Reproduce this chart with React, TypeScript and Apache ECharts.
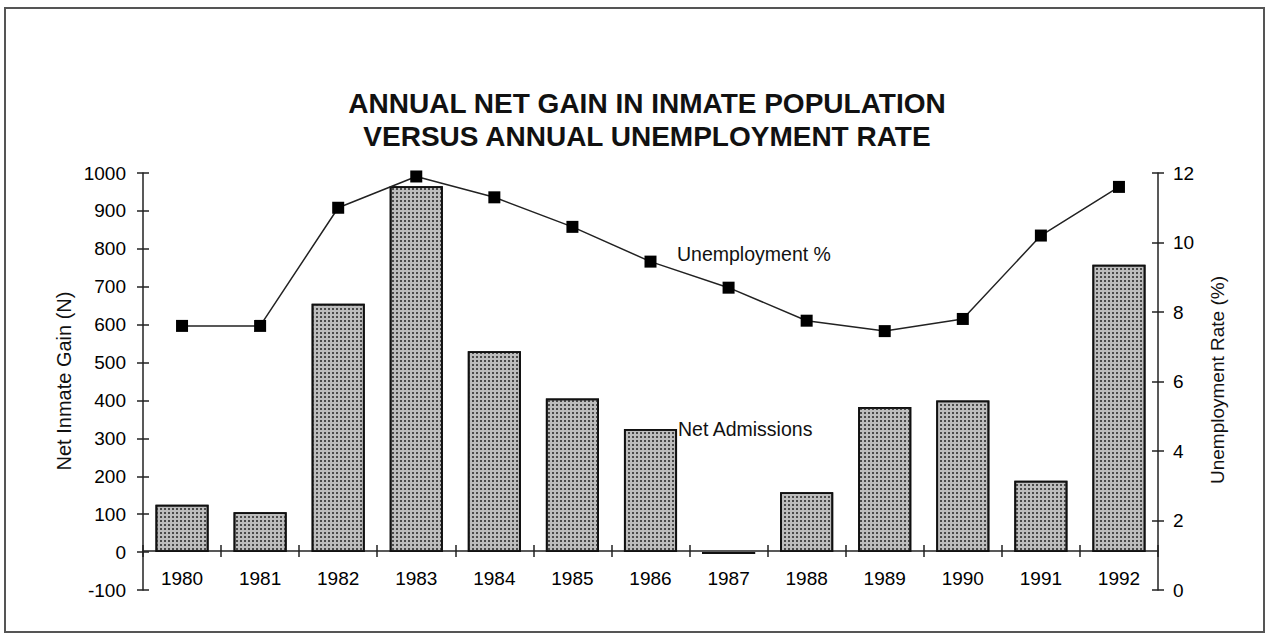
import React, { useEffect, useRef } from "react";
import * as echarts from "echarts";

const years = ["1980", "1981", "1982", "1983", "1984", "1985", "1986", "1987", "1988", "1989", "1990", "1991", "1992"];
const netAdmissions = [125, 105, 655, 965, 530, 405, 325, -5, 158, 383, 400, 188, 758];
const unemployment = [7.6, 7.6, 11.0, 11.9, 11.3, 10.45, 9.45, 8.7, 7.75, 7.45, 7.8, 10.2, 11.6];
const titleLines = ["ANNUAL NET GAIN IN INMATE POPULATION", "VERSUS ANNUAL UNEMPLOYMENT RATE"];
const leftAxisName = "Net Inmate Gain (N)";
const rightAxisName = "Unemployment Rate (%)";
const lineLabel = "Unemployment %";
const barLabel = "Net Admissions";

const FONT = "'Liberation Sans', Arial, sans-serif";

export default function App() {
  const ref = useRef<HTMLDivElement>(null);
  useEffect(() => {
    if (!ref.current) return;
    const chart = echarts.init(ref.current, null, { renderer: "svg" });
    const axisText = { color: "#000", fontSize: 19, fontFamily: FONT, formatter: (v: any) => String(v) };
    const tickStyle = { color: "#222", width: 1.5 };
    chart.setOption({
      animation: false,
      backgroundColor: "#ffffff",
      grid: [
        { left: 143, right: 112, top: 173, bottom: 49, containLabel: false },
        { left: 143, right: 112, top: 173, bottom: 88, containLabel: false },
      ],
      xAxis: [
        {
          type: "category",
          gridIndex: 0,
          data: years,
          show: false,
        },
        {
          type: "category",
          gridIndex: 1,
          data: years,
          position: "bottom",
          axisLine: { onZero: false, lineStyle: { color: "#222", width: 1.5 } },
          axisTick: { show: true, length: 6, lineStyle: tickStyle },
          axisLabel: { color: "#000", fontSize: 19, fontFamily: FONT, margin: 18 },
        },
        {
          type: "category",
          gridIndex: 1,
          data: years,
          position: "bottom",
          axisLine: { show: false, onZero: false },
          axisTick: { show: true, inside: true, length: 6, lineStyle: tickStyle },
          axisLabel: { show: false },
        },
      ],
      yAxis: [
        {
          type: "value",
          gridIndex: 0,
          position: "left",
          min: -100,
          max: 1000,
          interval: 100,
          axisLine: { show: true, onZero: false, lineStyle: { color: "#222", width: 1.5 } },
          axisTick: { show: true, length: 6, lineStyle: tickStyle },
          axisLabel: { ...axisText, margin: 17 },
          splitLine: { show: false },
        },
        {
          type: "value",
          gridIndex: 0,
          position: "right",
          min: 0,
          max: 12,
          interval: 2,
          axisLine: { show: true, onZero: false, lineStyle: { color: "#222", width: 1.5 } },
          axisTick: { show: true, length: 6, lineStyle: tickStyle },
          axisLabel: { ...axisText, margin: 15 },
          splitLine: { show: false },
        },
        {
          type: "value",
          gridIndex: 0,
          position: "left",
          min: -100,
          max: 1000,
          interval: 100,
          axisLine: { show: false, onZero: false },
          axisTick: { show: true, inside: true, length: 6, lineStyle: tickStyle },
          axisLabel: { show: false },
          splitLine: { show: false },
        },
        {
          type: "value",
          gridIndex: 0,
          position: "right",
          min: 0,
          max: 12,
          interval: 2,
          axisLine: { show: false, onZero: false },
          axisTick: { show: true, inside: true, length: 6, lineStyle: tickStyle },
          axisLabel: { show: false },
          splitLine: { show: false },
        },
        {
          type: "value",
          gridIndex: 1,
          min: 0,
          max: 1,
          show: false,
        },
      ],
      series: [
        {
          name: "Net Admissions",
          type: "bar",
          xAxisIndex: 0,
          yAxisIndex: 0,
          data: netAdmissions,
          barWidth: "68%",
          itemStyle: {
            color: "#bdbdbd",
            borderColor: "#111",
            borderWidth: 1.8,
            decal: {
              symbol: "rect",
              symbolSize: 1,
              color: "#4a4a4a",
              dashArrayX: 2,
              dashArrayY: 2,
              rotation: 0,
            },
          },
          z: 2,
        },
        {
          name: "Unemployment %",
          type: "line",
          xAxisIndex: 0,
          yAxisIndex: 1,
          data: unemployment,
          symbol: "rect",
          symbolSize: 12,
          lineStyle: { color: "#222", width: 1.5 },
          itemStyle: { color: "#000" },
          z: 5,
        },
      ],
      graphic: [
        {
          type: "rect",
          shape: { x: 5, y: 8, width: 1259, height: 624 },
          style: { fill: "none", stroke: "#555", lineWidth: 2 },
          silent: true,
        },
        {
          type: "text",
          x: 647,
          y: 103,
          style: {
            text: titleLines[0],
            fontSize: 28,
            fontWeight: "bold",
            fontFamily: FONT,
            fill: "#111",
            align: "center",
            verticalAlign: "middle",
          },
        },
        {
          type: "text",
          x: 647,
          y: 136,
          style: {
            text: titleLines[1],
            fontSize: 28,
            fontWeight: "bold",
            fontFamily: FONT,
            fill: "#111",
            align: "center",
            verticalAlign: "middle",
          },
        },
        {
          type: "text",
          x: 64,
          y: 381,
          rotation: Math.PI / 2,
          style: {
            text: leftAxisName,
            fontSize: 20,
            fontFamily: FONT,
            fill: "#111",
            align: "center",
            verticalAlign: "middle",
          },
        },
        {
          type: "text",
          x: 1217,
          y: 380,
          rotation: Math.PI / 2,
          style: {
            text: rightAxisName,
            fontSize: 19,
            fontFamily: FONT,
            fill: "#111",
            align: "center",
            verticalAlign: "middle",
          },
        },
        {
          type: "text",
          x: 677,
          y: 254,
          style: {
            text: lineLabel,
            fontSize: 19.5,
            fontFamily: FONT,
            fill: "#111",
            align: "left",
            verticalAlign: "middle",
          },
        },
        {
          type: "text",
          x: 678,
          y: 429,
          style: {
            text: barLabel,
            fontSize: 19.5,
            fontFamily: FONT,
            fill: "#111",
            align: "left",
            verticalAlign: "middle",
          },
        },
      ],
    });
    return () => chart.dispose();
  }, []);
  return <div ref={ref} style={{ width: 1270, height: 639, position: "absolute", left: 0, top: 0 }} />;
}
